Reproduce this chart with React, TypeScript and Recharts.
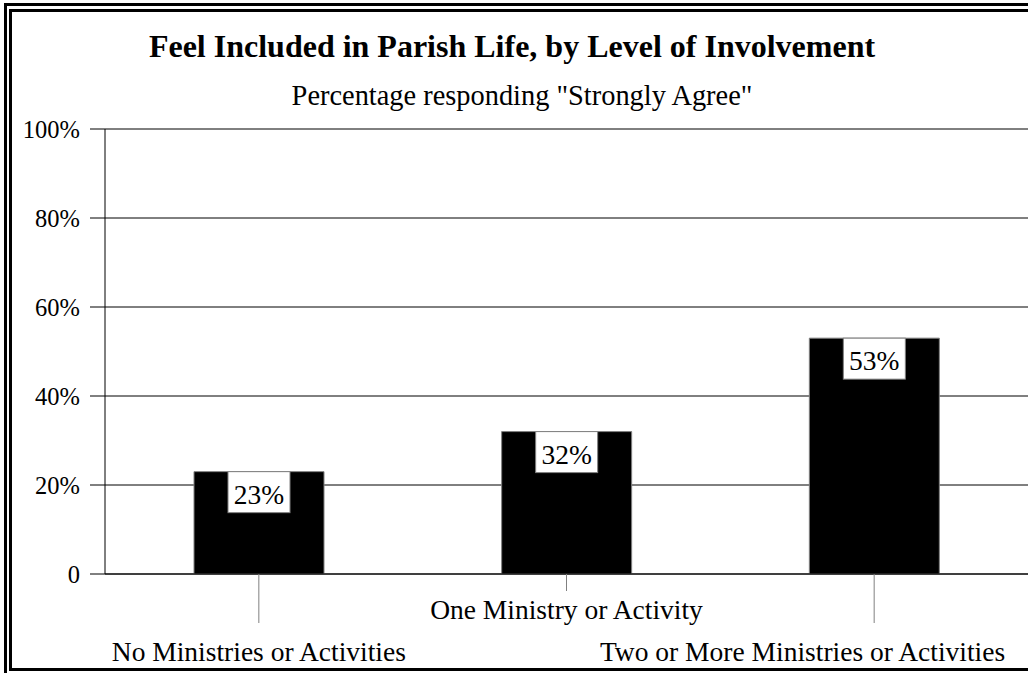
import React from 'react';
import { BarChart, Bar, CartesianGrid, XAxis, YAxis, LabelList } from 'recharts';

const categories = [
    'No Ministries or Activities',
    'One Ministry or Activity',
    'Two or More Ministries or Activities'
];
const stronglyAgree = [23, 32, 53];
const yTicks = [0, 20, 40, 60, 80, 100];

const data = categories.map((name, i) => ({ name, value: stronglyAgree[i] }));

const FONT = '"Liberation Serif", "Times New Roman", serif';

const CategoryTick = (props: any) => {
    const { x, y, payload, index } = props;
    const middle = index === 1;
    const last = index === categories.length - 1;
    const len = middle ? 17 : 49;
    const base = middle ? 45 : 87;
    return (
        <g>
            <line x1={x} y1={y} x2={x} y2={y + len} stroke="#808080" strokeWidth={1} />
            <text
                x={last ? x + 131 : x}
                y={y + base}
                textAnchor={last ? 'end' : 'middle'}
                fontFamily={FONT}
                fontSize={27.5}
                fill="#000"
            >
                {payload.value}
            </text>
        </g>
    );
};

const ValueLabel = (props: any) => {
    const { x, y, width, value } = props;
    const cx = x + width / 2;
    return (
        <g>
            <rect x={cx - 31} y={y} width={62} height={41} fill="#fff" stroke="#808080" strokeWidth={1} />
            <text x={cx} y={y + 32} textAnchor="middle" fontFamily={FONT} fontSize={27.5} fill="#000">
                {value + '%'}
            </text>
        </g>
    );
};

const App = () => {
    return (
        <div style={{ position: 'fixed', left: 0, top: 0, width: 1028, height: 673, overflow: 'hidden', background: '#fff' }}>
            <BarChart
                width={1028}
                height={673}
                data={data}
                margin={{ top: 129, right: 0, bottom: 0, left: 0 }}
            >
                <CartesianGrid vertical={false} stroke="#000" strokeWidth={1} />
                <XAxis
                    dataKey="name"
                    height={99}
                    interval={0}
                    tickLine={false}
                    tickSize={0}
                    tickMargin={0}
                    axisLine={{ stroke: '#000' }}
                    tick={<CategoryTick />}
                />
                <YAxis
                    width={105}
                    domain={[0, 100]}
                    ticks={yTicks}
                    interval={0}
                    tickSize={15}
                    tickMargin={10}
                    axisLine={{ stroke: '#000' }}
                    tickLine={{ stroke: '#000' }}
                    tickFormatter={(v: number) => (v === 0 ? '0' : v + '%')}
                    tick={{ fontFamily: FONT, fontSize: 24.5, fill: '#000' }}
                />
                <Bar dataKey="value" fill="#000" stroke="#808080" strokeWidth={1} barSize={130} isAnimationActive={false}>
                    <LabelList dataKey="value" content={<ValueLabel />} />
                </Bar>
            </BarChart>
            <svg width={1028} height={673} style={{ position: 'absolute', left: 0, top: 0, pointerEvents: 'none' }}>
                <rect x={5.5} y={4.5} width={1100} height={700} fill="none" stroke="#000" strokeWidth={3} />
                <rect x={10.5} y={10.5} width={1100} height={659} fill="none" stroke="#000" strokeWidth={3} />
                <text x={512} y={57} textAnchor="middle" fontFamily={FONT} fontSize={32} fontWeight="bold" fill="#000">
                    Feel Included in Parish Life, by Level of Involvement
                </text>
                <text x={522} y={105} textAnchor="middle" fontFamily={FONT} fontSize={28.4} fill="#000">
                    Percentage responding "Strongly Agree"
                </text>
            </svg>
        </div>
    );
};

export default App;
